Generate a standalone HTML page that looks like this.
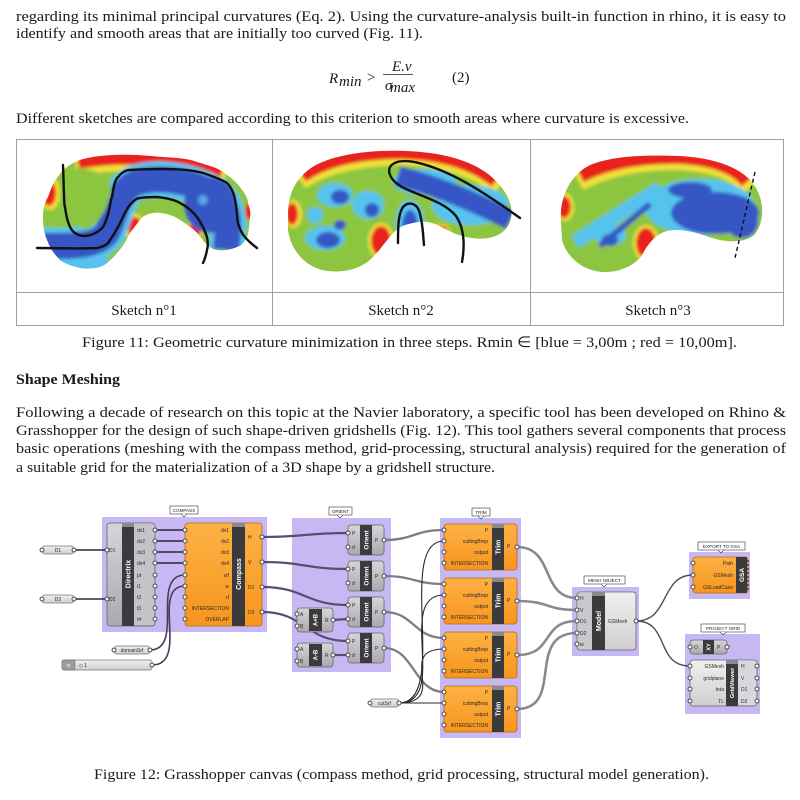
<!DOCTYPE html>
<html><head><meta charset="utf-8"><style>
html,body{margin:0;padding:0;background:#fff}
svg{display:block}
.t{font-family:"Liberation Serif",serif;fill:#1a1a1a;font-size:15px}
.s{font-family:"Liberation Sans",sans-serif;font-size:5px;fill:#2a2a2a}
.b{font-family:"Liberation Sans",sans-serif;font-weight:bold;fill:#fff}
.g{font-family:"Liberation Sans",sans-serif;font-size:4.6px;fill:#222}
.n{fill:#f4f4f4;stroke:#2a2a2a;stroke-width:.8}
.w{fill:none}
</style></head><body>
<svg width="800" height="800" viewBox="0 0 800 800" xmlns="http://www.w3.org/2000/svg">
<defs>
<filter id="bl" x="-20%" y="-20%" width="140%" height="140%"><feGaussianBlur stdDeviation="1.7"/></filter>
<linearGradient id="gg" x1="0" y1="0" x2="0" y2="1"><stop offset="0" stop-color="#d6d6da"/><stop offset="1" stop-color="#a9a9ae"/></linearGradient>
<linearGradient id="gl" x1="0" y1="0" x2="0" y2="1"><stop offset="0" stop-color="#f0f0f0"/><stop offset="1" stop-color="#cfcfcf"/></linearGradient>
<linearGradient id="go" x1="0" y1="0" x2="0" y2="1"><stop offset="0" stop-color="#fdb244"/><stop offset="1" stop-color="#f7951e"/></linearGradient>
<clipPath id="c1"><path d="M70,165 C80,158 95,156 113,155 C135,154 150,156 163,157 C180,158 190,159 197,162 C210,166 218,168 223,172 C232,178 237,183 240,187 C245,194 248,198 248,203 C250,210 251,213 250,217 C249,226 249,232 247,237 C244,243 241,246 237,247 C230,250 223,251 217,250 C211,249 206,245 203,240 C198,234 195,230 190,227 C183,222 177,217 170,215 C163,213 158,212 153,213 C147,214 143,216 140,220 C135,226 133,229 130,233 C126,241 122,248 117,253 C111,260 106,265 100,267 C93,269 87,269 80,268 C72,266 65,264 60,260 C54,254 50,248 47,240 C44,233 43,225 43,217 C43,208 45,202 48,197 C51,189 53,183 57,178 C61,172 65,168 70,165 Z"/></clipPath>
<clipPath id="c2"><path d="M288,213 C288,190 300,172 320,163 C345,152 380,150 405,151 C440,152 475,160 495,180 C510,195 516,212 508,226 C500,238 485,240 472,238 C455,236 445,228 435,224 C425,220 415,222 405,225 C392,230 385,245 372,258 C360,270 340,274 322,270 C300,264 290,245 288,230 Z"/></clipPath>
<clipPath id="c3"><path d="M561,222 C559,198 570,175 590,165 C615,155 650,155 680,156 C715,158 745,168 756,188 C765,204 764,222 755,234 C745,244 725,242 712,238 C700,234 690,230 675,230 C660,230 650,240 642,255 C635,266 618,273 602,272 C580,270 566,255 562,240 Z"/></clipPath>
</defs>

<text class="t" x="16" y="21" textLength="770" lengthAdjust="spacingAndGlyphs">regarding its minimal principal curvatures (Eq. 2). Using the curvature-analysis built-in function in rhino, it is easy to</text>
<text class="t" x="16" y="38" textLength="407" lengthAdjust="spacingAndGlyphs">identify and smooth areas that are initially too curved (Fig. 11).</text>

<text class="t" x="329" y="83" font-style="italic" font-size="16">R</text>
<text class="t" x="339" y="86" font-style="italic" font-size="11">min</text>
<text class="t" x="367" y="82" font-size="16">&gt;</text>
<text class="t" x="392" y="71" font-style="italic" font-size="8.5">E.v</text>
<line x1="383" y1="74.5" x2="413" y2="74.5" stroke="#1a1a1a" stroke-width="0.8"/>
<text class="t" x="385" y="90" font-style="italic" font-size="9">σ</text>
<text class="t" x="390" y="92" font-style="italic" font-size="8.5">max</text>
<text class="t" x="452" y="82">(2)</text>

<text class="t" x="16" y="123" textLength="673" lengthAdjust="spacingAndGlyphs">Different sketches are compared according to this criterion to smooth areas where curvature is excessive.</text>

<g stroke="#a0a0a0" stroke-width="1" fill="none">
<line x1="16" y1="139.5" x2="784" y2="139.5"/>
<line x1="16" y1="292.5" x2="784" y2="292.5"/>
<line x1="16" y1="325.5" x2="784" y2="325.5"/>
<line x1="16.5" y1="139" x2="16.5" y2="326"/>
<line x1="272.5" y1="139" x2="272.5" y2="326"/>
<line x1="530.5" y1="139" x2="530.5" y2="326"/>
<line x1="783.5" y1="139" x2="783.5" y2="326"/>
</g>

<!-- Blob 1 -->
<g clip-path="url(#c1)"><g filter="url(#bl)">
<rect x="30" y="145" width="240" height="140" fill="#8cc63f"/>
<path d="M76,166 Q150,152 226,175" stroke="#f0e23a" stroke-width="20" class="w"/>
<path d="M78,162 Q150,150 222,172" stroke="#e8241c" stroke-width="14" class="w"/>
<ellipse cx="50" cy="193" rx="10" ry="17" fill="#f0e23a"/><ellipse cx="49" cy="193" rx="7" ry="13" fill="#e8241c"/>
<ellipse cx="135" cy="228" rx="10" ry="14" fill="#f0e23a"/><ellipse cx="135" cy="228" rx="7" ry="11" fill="#e8241c"/>
<ellipse cx="195" cy="229" rx="8" ry="10" fill="#f0e23a"/><ellipse cx="195" cy="229" rx="6" ry="8" fill="#e8241c"/>
<ellipse cx="250" cy="211" rx="5" ry="9" fill="#e8241c"/>
<ellipse cx="46" cy="237" rx="5" ry="8" fill="#e8241c"/>
<ellipse cx="80" cy="262" rx="30" ry="9" fill="#56c3ee"/>
<path d="M40,246 C70,246 95,247 106,234 C116,218 116,192 135,183 C160,175 195,182 215,195 C232,208 228,232 226,250" stroke="#56c3ee" stroke-width="36" class="w"/>
<path d="M40,246 C70,246 95,247 106,234 C116,218 116,192 135,183 C160,175 195,182 215,195 C232,208 228,232 226,250" stroke="#3557c4" stroke-width="26" class="w"/>
<ellipse cx="210" cy="205" rx="26" ry="28" fill="#3557c4"/>
<ellipse cx="203" cy="200" rx="5" ry="5" fill="#5aa6e6"/>
<path d="M66,172 C70,200 72,222 85,230 C100,226 108,205 112,190 C110,178 100,170 80,168 Z" fill="#8cc63f"/>
</g></g>
<g stroke="#111" stroke-width="2.4" class="w" stroke-linecap="round">
<path class="w" d="M63,165 C64,190 64,207 65,207 C67,222 70,230 75,233 C85,240 98,233 103,227 C110,215 110,200 112,197 C114,185 115,180 118,177 C122,172 126,170 130,170 C145,169 155,169 163,169 C180,169 192,170 203,173 C215,177 222,180 227,183 C232,188 234,194 235,200 C237,210 237,218 238,223 C240,230 242,234 245,237 C249,242 253,245 257,248"/>
<path class="w" d="M37,248 C60,248 85,249 97,248 C103,247 106,245 108,243 C113,236 117,229 120,223 C124,215 127,208 130,205 C134,200 137,198 140,198 C147,197 152,197 157,197 C167,198 175,200 180,203 C188,207 193,212 197,217 C202,224 205,231 207,237 C208,242 208,247 207,250 C206,255 205,259 203,263"/>
</g>

<!-- Blob 2 -->
<g clip-path="url(#c2)"><g filter="url(#bl)">
<rect x="280" y="145" width="245" height="135" fill="#8cc63f"/>
<path d="M300,180 Q332,157 400,155 Q465,157 500,186" stroke="#f0e23a" stroke-width="20" class="w"/>
<path d="M302,176 Q334,153 400,152 Q463,154 496,181" stroke="#e8241c" stroke-width="14" class="w"/>
<ellipse cx="293" cy="214" rx="9" ry="14" fill="#f0e23a"/><ellipse cx="292" cy="214" rx="6" ry="11" fill="#e8241c"/>
<ellipse cx="381" cy="241" rx="13" ry="18" fill="#f0e23a"/><ellipse cx="381" cy="241" rx="10" ry="15" fill="#e8241c"/>
<ellipse cx="440" cy="231" rx="10" ry="7" fill="#f0e23a"/><ellipse cx="440" cy="231" rx="8" ry="5" fill="#e8241c"/>
<ellipse cx="335" cy="195" rx="18" ry="12" fill="#56c3ee"/>
<ellipse cx="325" cy="238" rx="20" ry="12" fill="#56c3ee"/>
<ellipse cx="368" cy="205" rx="16" ry="14" fill="#56c3ee"/>
<ellipse cx="410" cy="222" rx="14" ry="22" fill="#56c3ee"/>
<ellipse cx="470" cy="205" rx="38" ry="20" fill="#56c3ee"/>
<ellipse cx="425" cy="182" rx="32" ry="13" fill="#56c3ee"/>
<ellipse cx="315" cy="215" rx="8" ry="8" fill="#56c3ee"/>
<path d="M398,176 C430,184 470,199 510,220" stroke="#3557c4" stroke-width="20" class="w"/>
<ellipse cx="410" cy="228" rx="8" ry="18" fill="#3557c4"/>
<ellipse cx="328" cy="240" rx="12" ry="8" fill="#3557c4"/>
<ellipse cx="340" cy="197" rx="9" ry="7" fill="#3557c4"/>
<ellipse cx="372" cy="210" rx="7" ry="7" fill="#3557c4"/>
<ellipse cx="340" cy="225" rx="6" ry="5" fill="#3557c4"/>
</g></g>
<g stroke="#111" stroke-width="2.4" class="w" stroke-linecap="round">
<path class="w" d="M462,262 C465,245 464,228 456,216 C445,202 420,196 404,188 C388,180 386,168 393,164 C402,158 420,162 440,170 C465,180 492,198 520,218"/>
<path class="w" d="M398,243 C398,228 398,212 404,206 C410,201 418,204 420,214 C423,225 423,235 424,245"/>
</g>

<!-- Blob 3 -->
<g clip-path="url(#c3)"><g filter="url(#bl)">
<rect x="550" y="145" width="225" height="135" fill="#8cc63f"/>
<path d="M578,180 Q620,158 680,159 Q732,162 752,186" stroke="#f0e23a" stroke-width="22" class="w"/>
<path d="M580,175 Q620,155 680,156 Q730,159 748,181" stroke="#e8241c" stroke-width="16" class="w"/>
<ellipse cx="565" cy="207" rx="9" ry="14" fill="#f0e23a"/><ellipse cx="564" cy="207" rx="7" ry="11" fill="#e8241c"/>
<ellipse cx="646" cy="243" rx="13" ry="18" fill="#f0e23a"/><ellipse cx="646" cy="243" rx="10" ry="15" fill="#e8241c"/>
<ellipse cx="697" cy="230" rx="6" ry="9" fill="#e8241c"/>
<ellipse cx="700" cy="207" rx="55" ry="28" fill="#56c3ee"/>
<path d="M575,242 L660,188" stroke="#56c3ee" stroke-width="14" class="w"/>
<ellipse cx="610" cy="235" rx="16" ry="10" fill="#56c3ee"/>
<ellipse cx="715" cy="213" rx="44" ry="21" fill="#3557c4"/>
<ellipse cx="690" cy="190" rx="22" ry="8" fill="#3557c4"/>
<ellipse cx="742" cy="222" rx="16" ry="16" fill="#3557c4"/>
<path d="M600,246 L650,204" stroke="#3557c4" stroke-width="6" class="w"/>
<ellipse cx="610" cy="240" rx="8" ry="6" fill="#3557c4"/>
</g></g>
<line x1="755" y1="172" x2="735" y2="258" stroke="#111" stroke-width="1.4" stroke-dasharray="4,3"/>

<text class="t" x="144" y="315" font-size="14" text-anchor="middle">Sketch n°1</text>
<text class="t" x="401" y="315" font-size="14" text-anchor="middle">Sketch n°2</text>
<text class="t" x="658" y="315" font-size="14" text-anchor="middle">Sketch n°3</text>

<text class="t" x="82" y="347" textLength="655" lengthAdjust="spacingAndGlyphs">Figure 11: Geometric curvature minimization in three steps. Rmin ∈ [blue = 3,00m ; red = 10,00m].</text>

<text class="t" x="16" y="384" font-weight="bold" textLength="104" lengthAdjust="spacingAndGlyphs">Shape Meshing</text>
<text class="t" x="16" y="417" textLength="770" lengthAdjust="spacingAndGlyphs">Following a decade of research on this topic at the Navier laboratory, a specific tool has been developed on Rhino &amp;</text>
<text class="t" x="16" y="435" textLength="770" lengthAdjust="spacingAndGlyphs">Grasshopper for the design of such shape-driven gridshells (Fig. 12). This tool gathers several components that process</text>
<text class="t" x="16" y="453" textLength="770" lengthAdjust="spacingAndGlyphs">basic operations (meshing with the compass method, grid-processing, structural analysis) required for the generation of</text>
<text class="t" x="16" y="472" textLength="479" lengthAdjust="spacingAndGlyphs">a suitable grid for the materialization of a 3D shape by a gridshell structure.</text>

<!-- groups -->
<g fill="#c7b8f3">
<rect x="102" y="517" width="165" height="115"/>
<rect x="292" y="518" width="99" height="154"/>
<rect x="440" y="518" width="81" height="220"/>
<rect x="572" y="587" width="67" height="69"/>
<rect x="689" y="552" width="61" height="47"/>
<rect x="685" y="634" width="75" height="80"/>
</g>
<g fill="#fff" stroke="#333" stroke-width=".6">
<rect x="170" y="506" width="28" height="8"/><path d="M181,514 l3,3 l3,-3" />
<rect x="329" y="507" width="23" height="8"/><path d="M337,515 l3,3 l3,-3"/>
<rect x="472" y="508" width="18" height="8"/><path d="M478,516 l3,3 l3,-3"/>
<rect x="584" y="576" width="41" height="8"/><path d="M601,584 l3,3 l3,-3"/>
<rect x="698" y="542" width="47" height="8"/><path d="M718,550 l3,3 l3,-3"/>
<rect x="701" y="624" width="44" height="8"/><path d="M720,632 l3,3 l3,-3"/>
</g>
<g class="g" text-anchor="middle">
<text x="184" y="512" class="g">COMPASS</text>
<text x="340.5" y="513" class="g">ORIENT</text>
<text x="481" y="514" class="g">TRIM</text>
<text x="604.5" y="582" class="g">MESH OBJECT</text>
<text x="721.5" y="548" class="g">EXPORT TO GSA</text>
<text x="723" y="630" class="g">PROJECT GRID</text>
</g>

<!-- wires -->
<g class="w" stroke="#2e2536" stroke-width="1.6">
<path d="M74,550 L107,550"/>
<path d="M74,599 L107,599"/>
<path d="M155,530 L185,530"/><path d="M155,541 L185,541"/><path d="M155,552 L185,552"/><path d="M155,563 L185,563"/>
<path d="M150,650 C185,650 150,575 185,575" stroke="#4a3b5c"/>
<path d="M152,665 C190,665 150,586 185,586" stroke="#4a3b5c"/>
</g>
<g class="w" stroke="#5b4d6d" stroke-width="2.2">
<path d="M262,537 C305,537 305,533 348,533"/>
<path d="M262,562 C305,562 305,569 348,569"/>
<path d="M262,587 C305,587 305,605 348,605"/>
<path d="M262,612 C305,612 305,641 348,641"/>
<path d="M333,620 L348,619"/>
<path d="M333,655 L348,655"/>
</g>
<g class="w" stroke="#7e7e82" stroke-width="2.3">
<path d="M384,540 C414,540 414,530 444,530"/>
<path d="M384,576 C414,576 414,584 444,584"/>
<path d="M384,612 C414,612 414,638 444,638"/>
<path d="M384,648 C414,648 414,692 444,692"/>
</g>
<g class="w" stroke="#2a2a2a" stroke-width="1.1">
<path d="M399,703 C450,703 395,541 444,541"/>
<path d="M399,703 C450,703 395,595 444,595"/>
<path d="M399,703 C450,703 395,649 444,649"/>
<path d="M399,703 C430,703 420,703 444,703"/>
</g>
<g class="w" stroke="#8a8a8e" stroke-width="2.6">
<path d="M517,547 C555,547 540,598 577,598"/>
<path d="M517,601 C550,601 545,610 577,610"/>
<path d="M517,655 C555,655 540,621 577,621"/>
<path d="M517,709 C565,709 525,633 577,633"/>
</g>
<g class="w" stroke="#4e4e52" stroke-width="1.4">
<path d="M636,621 C670,621 660,575 693,575"/>
<path d="M636,621 C670,621 655,666 690,666"/>
</g>

<!-- params -->
<g stroke="#777" stroke-width=".7" fill="url(#gl)">
<rect x="42" y="546" width="32" height="8" rx="3"/>
<rect x="42" y="595" width="32" height="8" rx="3"/>
<rect x="114" y="646" width="36" height="8" rx="3"/>
<rect x="370" y="699" width="29" height="8" rx="3"/>
<rect x="62" y="660" width="90" height="10" rx="2"/>
</g>
<rect x="62" y="660" width="13" height="10" rx="2" fill="#9c9ca2" stroke="#777" stroke-width=".7"/>
<g class="s" text-anchor="middle">
<text x="58" y="552">D1</text><text x="58" y="601">D2</text>
<text x="132" y="652">domainSrf</text><text x="384.5" y="705">cutSrf</text>
<text x="68.5" y="667" fill="#fff">w</text>
</g>
<text class="s" x="79" y="667">◇ 1</text>

<!-- Directrix -->
<rect x="107" y="523" width="48" height="103" rx="3" fill="url(#gg)" stroke="#666" stroke-width=".8"/>
<rect x="134" y="524" width="20" height="101" fill="#c4c4c8"/>
<rect x="122" y="523" width="12" height="103" fill="#3b3b3e"/>
<rect x="122" y="523" width="12" height="4" fill="#8a8a8e"/>
<text class="b" font-size="7" text-anchor="middle" transform="rotate(-90 128 574)" x="128" y="576.5">Directrix</text>
<g class="s"><text x="109" y="552">D1</text><text x="109" y="601">D2</text>
<text x="137" y="532">dx1</text><text x="137" y="543">dx2</text><text x="137" y="554">dx3</text><text x="137" y="565">dx4</text><text x="137" y="577">pt</text><text x="137" y="588">t1</text><text x="137" y="599">t2</text><text x="137" y="610">t3</text><text x="137" y="621">t4</text></g>

<!-- Compass -->
<rect x="185" y="523" width="77" height="103" rx="3" fill="url(#go)" stroke="#b86a10" stroke-width=".8"/>
<rect x="232" y="523" width="13" height="103" fill="#3b3b3e"/>
<rect x="232" y="523" width="13" height="4" fill="#8a8a8e"/>
<text class="b" font-size="7" text-anchor="middle" transform="rotate(-90 238.5 574)" x="238.5" y="576.5">Compass</text>
<g class="s" text-anchor="end"><text x="229" y="532">dx1</text><text x="229" y="543">dx2</text><text x="229" y="554">dx3</text><text x="229" y="565">dx4</text><text x="229" y="577">srf</text><text x="229" y="588">w</text><text x="229" y="599">rf</text><text x="229" y="610">INTERSECTION</text><text x="229" y="621">OVERLAP</text></g>
<g class="s"><text x="248" y="539">H</text><text x="248" y="564">V</text><text x="248" y="589">D1</text><text x="248" y="614">D2</text></g>

<!-- Orient x4 -->
<g>
<rect x="348" y="525" width="36" height="30" rx="3" fill="url(#gg)" stroke="#666" stroke-width=".8"/>
<rect x="360" y="525" width="12" height="30" fill="#3b3b3e"/>
<rect x="348" y="561" width="36" height="30" rx="3" fill="url(#gg)" stroke="#666" stroke-width=".8"/>
<rect x="360" y="561" width="12" height="30" fill="#3b3b3e"/>
<rect x="348" y="597" width="36" height="30" rx="3" fill="url(#gg)" stroke="#666" stroke-width=".8"/>
<rect x="360" y="597" width="12" height="30" fill="#3b3b3e"/>
<rect x="348" y="633" width="36" height="30" rx="3" fill="url(#gg)" stroke="#666" stroke-width=".8"/>
<rect x="360" y="633" width="12" height="30" fill="#3b3b3e"/>
</g>
<g class="b" font-size="6.5" text-anchor="middle">
<text transform="rotate(-90 366 540)" x="366" y="542.3">Orient</text>
<text transform="rotate(-90 366 576)" x="366" y="578.3">Orient</text>
<text transform="rotate(-90 366 612)" x="366" y="614.3">Orient</text>
<text transform="rotate(-90 366 648)" x="366" y="650.3">Orient</text>
</g>
<g class="s">
<text x="352" y="535">P</text><text x="352" y="549">d</text><text x="375" y="542">P</text>
<text x="352" y="571">P</text><text x="352" y="585">d</text><text x="375" y="578">P</text>
<text x="352" y="607">P</text><text x="352" y="621">d</text><text x="375" y="614">P</text>
<text x="352" y="643">P</text><text x="352" y="657">d</text><text x="375" y="650">P</text>
</g>

<!-- A+B, A-B -->
<rect x="297" y="608" width="36" height="24" rx="3" fill="url(#gg)" stroke="#666" stroke-width=".8"/>
<rect x="309" y="609" width="13" height="22" fill="#3b3b3e"/>
<rect x="297" y="643" width="36" height="24" rx="3" fill="url(#gg)" stroke="#666" stroke-width=".8"/>
<rect x="309" y="644" width="13" height="22" fill="#3b3b3e"/>
<g class="b" font-size="6" text-anchor="middle">
<text transform="rotate(-90 315.5 620)" x="315.5" y="622">A+B</text>
<text transform="rotate(-90 315.5 655)" x="315.5" y="657">A-B</text>
</g>
<g class="s"><text x="300" y="616">A</text><text x="300" y="628">B</text><text x="325" y="622">R</text>
<text x="300" y="651">A</text><text x="300" y="663">B</text><text x="325" y="657">R</text></g>

<!-- Trim x4 -->
<g>
<rect x="444" y="524" width="73" height="46" rx="3" fill="url(#go)" stroke="#b86a10" stroke-width=".8"/>
<rect x="492" y="524" width="12" height="46" fill="#3b3b3e"/><rect x="492" y="524" width="12" height="4" fill="#8a8a8e"/>
<rect x="444" y="578" width="73" height="46" rx="3" fill="url(#go)" stroke="#b86a10" stroke-width=".8"/>
<rect x="492" y="578" width="12" height="46" fill="#3b3b3e"/><rect x="492" y="578" width="12" height="4" fill="#8a8a8e"/>
<rect x="444" y="632" width="73" height="46" rx="3" fill="url(#go)" stroke="#b86a10" stroke-width=".8"/>
<rect x="492" y="632" width="12" height="46" fill="#3b3b3e"/><rect x="492" y="632" width="12" height="4" fill="#8a8a8e"/>
<rect x="444" y="686" width="73" height="46" rx="3" fill="url(#go)" stroke="#b86a10" stroke-width=".8"/>
<rect x="492" y="686" width="12" height="46" fill="#3b3b3e"/><rect x="492" y="686" width="12" height="4" fill="#8a8a8e"/>
</g>
<g class="b" font-size="7" text-anchor="middle">
<text transform="rotate(-90 498 547)" x="498" y="549.5">Trim</text>
<text transform="rotate(-90 498 601)" x="498" y="603.5">Trim</text>
<text transform="rotate(-90 498 655)" x="498" y="657.5">Trim</text>
<text transform="rotate(-90 498 709)" x="498" y="711.5">Trim</text>
</g>
<g class="s" text-anchor="end">
<text x="488" y="532">P</text><text x="488" y="543">cuttingBrep</text><text x="488" y="554">output</text><text x="488" y="565">INTERSECTION</text>
<text x="488" y="586">P</text><text x="488" y="597">cuttingBrep</text><text x="488" y="608">output</text><text x="488" y="619">INTERSECTION</text>
<text x="488" y="640">P</text><text x="488" y="651">cuttingBrep</text><text x="488" y="662">output</text><text x="488" y="673">INTERSECTION</text>
<text x="488" y="694">P</text><text x="488" y="705">cuttingBrep</text><text x="488" y="716">output</text><text x="488" y="727">INTERSECTION</text>
</g>
<g class="s"><text x="507" y="548">P</text><text x="507" y="602">P</text><text x="507" y="656">P</text><text x="507" y="710">P</text></g>

<!-- Model -->
<rect x="577" y="592" width="59" height="58" rx="3" fill="url(#gl)" stroke="#666" stroke-width=".8"/>
<rect x="578" y="593" width="14" height="56" fill="#c9c9cd"/>
<rect x="592" y="592" width="13" height="58" fill="#3b3b3e"/><rect x="592" y="592" width="13" height="4" fill="#8a8a8e"/>
<text class="b" font-size="7" text-anchor="middle" transform="rotate(-90 598.5 621)" x="598.5" y="623.5">Model</text>
<g class="s"><text x="580" y="600">H</text><text x="580" y="612">V</text><text x="580" y="623">D1</text><text x="580" y="635">D2</text><text x="580" y="646">w</text>
<text x="608" y="623">GSMesh</text></g>

<!-- GSA -->
<rect x="693" y="557" width="55" height="36" rx="3" fill="url(#go)" stroke="#b86a10" stroke-width=".8"/>
<rect x="736" y="557" width="11" height="36" fill="#3b3b3e"/>
<g fill="#3b3b3e"><circle cx="748" cy="561" r="1"/><circle cx="748" cy="565" r="1"/><circle cx="748" cy="569" r="1"/><circle cx="748" cy="573" r="1"/><circle cx="748" cy="577" r="1"/><circle cx="748" cy="581" r="1"/><circle cx="748" cy="585" r="1"/><circle cx="748" cy="589" r="1"/></g>
<text class="b" font-size="6.5" text-anchor="middle" transform="rotate(-90 741.5 575)" x="741.5" y="577.3">GSA</text>
<g class="s" text-anchor="end"><text x="733" y="565">Path</text><text x="733" y="577">GSMesh</text><text x="733" y="589">GSLoadCase</text></g>

<!-- XY & GridViewer -->
<rect x="690" y="640" width="37" height="14" rx="3" fill="url(#gg)" stroke="#666" stroke-width=".8"/>
<rect x="703" y="640" width="11" height="14" fill="#3b3b3e"/>
<text class="b" font-size="5.5" text-anchor="middle" transform="rotate(-90 708.5 647)" x="708.5" y="649">XY</text>
<g class="s"><text x="694" y="649">O</text><text x="717" y="649">P</text></g>

<rect x="690" y="660" width="67" height="46" rx="3" fill="url(#gl)" stroke="#666" stroke-width=".8"/>
<rect x="738" y="661" width="18" height="44" fill="#d8d8dc"/>
<rect x="726" y="660" width="12" height="46" fill="#3b3b3e"/><rect x="726" y="660" width="12" height="4" fill="#8a8a8e"/>
<text class="b" font-size="5.8" text-anchor="middle" transform="rotate(-90 732 683)" x="732" y="685">GridViewer</text>
<g class="s" text-anchor="end"><text x="724" y="668">GSMesh</text><text x="724" y="680">gridplane</text><text x="724" y="691">teta</text><text x="724" y="703">TL</text></g>
<g class="s"><text x="741" y="668">H</text><text x="741" y="680">V</text><text x="741" y="691">D1</text><text x="741" y="703">D2</text></g>

<!-- nubs -->
<g class="n">
<circle cx="42" cy="550" r="2"/><circle cx="74" cy="550" r="2"/><circle cx="42" cy="599" r="2"/><circle cx="74" cy="599" r="2"/>
<circle cx="114" cy="650" r="2"/><circle cx="150" cy="650" r="2"/><circle cx="152" cy="665" r="2"/>
<circle cx="370" cy="703" r="2"/><circle cx="399" cy="703" r="2"/>
<circle cx="107" cy="550" r="2"/><circle cx="107" cy="599" r="2"/>
<circle cx="155" cy="530" r="2"/><circle cx="155" cy="541" r="2"/><circle cx="155" cy="552" r="2"/><circle cx="155" cy="563" r="2"/><circle cx="155" cy="575" r="2"/><circle cx="155" cy="586" r="2"/><circle cx="155" cy="597" r="2"/><circle cx="155" cy="608" r="2"/><circle cx="155" cy="619" r="2"/>
<circle cx="185" cy="530" r="2"/><circle cx="185" cy="541" r="2"/><circle cx="185" cy="552" r="2"/><circle cx="185" cy="563" r="2"/><circle cx="185" cy="575" r="2"/><circle cx="185" cy="586" r="2"/><circle cx="185" cy="597" r="2"/><circle cx="185" cy="608" r="2"/><circle cx="185" cy="619" r="2"/>
<circle cx="262" cy="537" r="2"/><circle cx="262" cy="562" r="2"/><circle cx="262" cy="587" r="2"/><circle cx="262" cy="612" r="2"/>
<circle cx="348" cy="533" r="2"/><circle cx="348" cy="547" r="2"/><circle cx="384" cy="540" r="2"/>
<circle cx="348" cy="569" r="2"/><circle cx="348" cy="583" r="2"/><circle cx="384" cy="576" r="2"/>
<circle cx="348" cy="605" r="2"/><circle cx="348" cy="619" r="2"/><circle cx="384" cy="612" r="2"/>
<circle cx="348" cy="641" r="2"/><circle cx="348" cy="655" r="2"/><circle cx="384" cy="648" r="2"/>
<circle cx="297" cy="614" r="2"/><circle cx="297" cy="626" r="2"/><circle cx="333" cy="620" r="2"/>
<circle cx="297" cy="649" r="2"/><circle cx="297" cy="661" r="2"/><circle cx="333" cy="655" r="2"/>
<circle cx="444" cy="530" r="2"/><circle cx="444" cy="541" r="2"/><circle cx="444" cy="552" r="2"/><circle cx="444" cy="563" r="2"/><circle cx="517" cy="547" r="2"/>
<circle cx="444" cy="584" r="2"/><circle cx="444" cy="595" r="2"/><circle cx="444" cy="606" r="2"/><circle cx="444" cy="617" r="2"/><circle cx="517" cy="601" r="2"/>
<circle cx="444" cy="638" r="2"/><circle cx="444" cy="649" r="2"/><circle cx="444" cy="660" r="2"/><circle cx="444" cy="671" r="2"/><circle cx="517" cy="655" r="2"/>
<circle cx="444" cy="692" r="2"/><circle cx="444" cy="703" r="2"/><circle cx="444" cy="714" r="2"/><circle cx="444" cy="725" r="2"/><circle cx="517" cy="709" r="2"/>
<circle cx="577" cy="598" r="2"/><circle cx="577" cy="610" r="2"/><circle cx="577" cy="621" r="2"/><circle cx="577" cy="633" r="2"/><circle cx="577" cy="644" r="2"/><circle cx="636" cy="621" r="2"/>
<circle cx="693" cy="563" r="2"/><circle cx="693" cy="575" r="2"/><circle cx="693" cy="587" r="2"/>
<circle cx="690" cy="647" r="2"/><circle cx="727" cy="647" r="2"/>
<circle cx="690" cy="666" r="2"/><circle cx="690" cy="678" r="2"/><circle cx="690" cy="689" r="2"/><circle cx="690" cy="701" r="2"/>
<circle cx="757" cy="666" r="2"/><circle cx="757" cy="678" r="2"/><circle cx="757" cy="689" r="2"/><circle cx="757" cy="701" r="2"/>
</g>

<text class="t" x="94" y="779" textLength="615" lengthAdjust="spacingAndGlyphs">Figure 12: Grasshopper canvas (compass method, grid processing, structural model generation).</text>
</svg>
</body></html>
